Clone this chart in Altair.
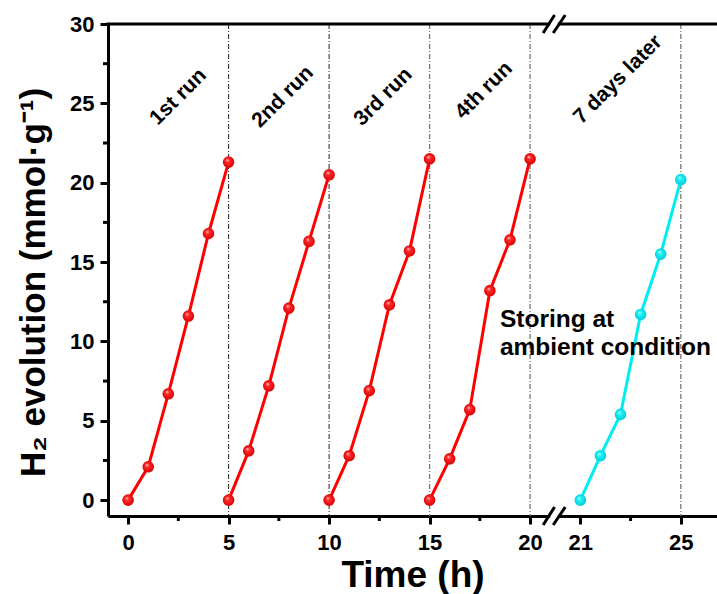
import altair as alt
import pandas as pd

# ---------------- data ----------------
run_times = [0, 1, 2, 3, 4, 5]
run1 = [0.0, 2.1, 6.7, 11.6, 16.8, 21.3]
run2 = [0.0, 3.1, 7.2, 12.1, 16.3, 20.5]
run3 = [0.0, 2.8, 6.9, 12.3, 15.7, 21.5]
run4 = [0.0, 2.6, 5.7, 13.2, 16.4, 21.5]
later_times = [21, 21.8, 22.6, 23.4, 24.2, 25]
later_vals = [0.0, 2.8, 5.4, 11.7, 15.5, 20.2]

run_labels = ["1st run", "2nd run", "3rd run", "4th run"]
run_label_t = [2.5, 7.7, 12.7, 17.7]
run_label_y = [25.4, 25.4, 25.4, 25.8]
later_label = "7 days later"
later_label_t = 22.5
later_label_y = 26.5

divider_times_dark = [5, 10]
divider_times_gray = [15, 20, 25]

major_tick_times = [0, 5, 10, 15, 20, 21, 25]
minor_tick_times = [2.5, 7.5, 12.5, 17.5, 23]
y_minor = [2.5, 7.5, 12.5, 17.5, 22.5, 27.5]

note_lines = ["Storing at", "ambient condition"]
note_t = 18.5
note_y = 10.9

FONT = "Liberation Sans"
W, H = 609, 492


# broken axis: 0-20 h at 1 unit/h, then 21-25 h at 1.25 units/h after a gap
def to_pos(t):
    return t if t <= 20 else 22.5 + (t - 21) * 1.25


rows = []
for k, vals in enumerate([run1, run2, run3, run4]):
    for t, v in zip(run_times, vals):
        rows.append({"p": to_pos(t + 5 * k), "y": v, "run": f"r{k+1}"})
red = pd.DataFrame(rows)
cyan = pd.DataFrame({"p": [to_pos(t) for t in later_times], "y": later_vals})

labels = pd.DataFrame({
    "p": [to_pos(t) for t in run_label_t] + [to_pos(later_label_t)],
    "y": run_label_y + [later_label_y],
    "text": run_labels + [later_label],
})

div_dark = pd.DataFrame({"p": [to_pos(t) for t in divider_times_dark]})
div_gray = pd.DataFrame({"p": [to_pos(t) for t in divider_times_gray]})
xminor = pd.DataFrame({"p": [to_pos(t) for t in minor_tick_times]})
yminor = pd.DataFrame({"y": y_minor})
note = pd.DataFrame({"p": [note_t], "y": [note_y], "text": ["\n".join(note_lines)]})

tick_vals = [to_pos(t) for t in major_tick_times]
label_map = " : ".join(
    f"datum.value == {to_pos(t)} ? '{t}'" for t in major_tick_times
) + " : ''"

xscale = alt.Scale(domain=[-1, 29.3], nice=False, zero=False)
yscale = alt.Scale(domain=[-1, 30], nice=False, zero=False)

xaxis = alt.Axis(
    values=tick_vals, labelExpr=label_map, grid=False,
    domainColor="black", domainWidth=3, tickColor="black", tickWidth=3, tickSize=8,
    labelFont=FONT, labelFontWeight="bold", labelFontSize=22, labelColor="black",
    labelPadding=8, labelFlush=False,
    title="Time (h)", titleFont=FONT, titleFontWeight="bold", titleFontSize=37,
    titleColor="black", titleX=W / 2, titleY=70, titleBaseline="alphabetic",
    titleAlign="center",
)
yaxis = alt.Axis(
    values=[0, 5, 10, 15, 20, 25, 30], grid=False,
    domainColor="black", domainWidth=3, tickColor="black", tickWidth=3, tickSize=8,
    labelFont=FONT, labelFontWeight="bold", labelFontSize=22, labelColor="black",
    labelPadding=6, labelFlush=False,
    title="H₂ evolution (mmol·g⁻¹)", titleFont=FONT, titleFontWeight="bold",
    titleFontSize=35, titleColor="black", titleAngle=270, titleX=-64, titleY=258,
    titleBaseline="alphabetic", titleAlign="center",
)

X = alt.X("p:Q", scale=xscale, axis=xaxis)
Y = alt.Y("y:Q", scale=yscale, axis=yaxis)
Xn = alt.X("p:Q", scale=xscale)
Yn = alt.Y("y:Q", scale=yscale)

dash = [5, 2, 1, 2]
dark_lines = alt.Chart(div_dark).mark_rule(color="#222222", strokeWidth=1, strokeDash=dash).encode(
    x=Xn, y=alt.value(0), y2=alt.value(H))
gray_lines = alt.Chart(div_gray).mark_rule(color="#777777", strokeWidth=1.3, strokeDash=dash).encode(
    x=Xn, y=alt.value(0), y2=alt.value(H))

red_grad = alt.RadialGradient(
    gradient="radial",
    stops=[alt.GradientStop(offset=0, color="#ffd8d8"),
           alt.GradientStop(offset=0.3, color="#ff2a2a"),
           alt.GradientStop(offset=1, color="#d40000")],
    x1=0.38, y1=0.32, r1=0, x2=0.5, y2=0.5, r2=0.55)
cyan_grad = alt.RadialGradient(
    gradient="radial",
    stops=[alt.GradientStop(offset=0, color="#e0ffff"),
           alt.GradientStop(offset=0.3, color="#20f4f8"),
           alt.GradientStop(offset=1, color="#00c8d8")],
    x1=0.38, y1=0.32, r1=0, x2=0.5, y2=0.5, r2=0.55)

red_line = alt.Chart(red).mark_line(color="#ff0000", strokeWidth=3).encode(
    x=X, y=Y, detail="run:N")
red_pts = alt.Chart(red).mark_circle(size=135, fill=red_grad, opacity=1).encode(x=Xn, y=Yn)
cyan_line = alt.Chart(cyan).mark_line(color="#00eef2", strokeWidth=3).encode(x=Xn, y=Yn)
cyan_pts = alt.Chart(cyan).mark_circle(size=135, fill=cyan_grad, opacity=1).encode(x=Xn, y=Yn)

run_text = alt.Chart(labels).mark_text(
    angle=315, font=FONT, fontWeight="bold", fontSize=21, color="black",
    align="center", baseline="middle").encode(x=Xn, y=Yn, text="text:N")

note_text = alt.Chart(note).mark_text(
    font=FONT, fontWeight="bold", fontSize=24.5, color="black", align="left",
    baseline="alphabetic", lineBreak="\n", lineHeight=28).encode(x=Xn, y=Yn, text="text:N")

# top frame line
top_line = alt.Chart(note).mark_rule(color="black", strokeWidth=3).encode(
    x=alt.value(-1.5), x2=alt.value(W), y=alt.value(0))

# minor ticks
x_minor = alt.Chart(xminor).mark_rule(color="black", strokeWidth=3).encode(
    x=Xn, y=alt.value(H), y2=alt.value(H + 5))
y_minor_ticks = alt.Chart(yminor).mark_rule(color="black", strokeWidth=3).encode(
    y=Yn, x=alt.value(0), x2=alt.value(-5))

# axis-break marks (between 20 h and 21 h)
gap = pd.DataFrame({"p1": [21.0], "p2": [21.38]})
gap_bottom = alt.Chart(gap).mark_rule(color="white", strokeWidth=6).encode(
    x=alt.X("p1:Q", scale=xscale), x2="p2:Q", y=alt.value(H))
gap_top = alt.Chart(gap).mark_rule(color="white", strokeWidth=6).encode(
    x=alt.X("p1:Q", scale=xscale), x2="p2:Q", y=alt.value(0))
slashes = pd.DataFrame({"a": [20.65, 21.15], "b": [21.22, 21.75]})
slash_bottom = alt.Chart(slashes).mark_rule(color="black", strokeWidth=3).encode(
    x=alt.X("a:Q", scale=xscale), x2="b:Q", y=alt.value(H + 9), y2=alt.value(H - 9))
slash_top = alt.Chart(slashes).mark_rule(color="black", strokeWidth=3).encode(
    x=alt.X("a:Q", scale=xscale), x2="b:Q", y=alt.value(9), y2=alt.value(-9))

chart = alt.layer(
    dark_lines, gray_lines, red_line, red_pts, cyan_line, cyan_pts,
    run_text, note_text, top_line, x_minor, y_minor_ticks,
    gap_bottom, gap_top, slash_bottom, slash_top,
).properties(
    width=W, height=H,
    padding={"left": 108, "top": 24, "right": 0, "bottom": 78},
    autosize=alt.AutoSizeParams(type="none"),
).configure_view(strokeWidth=0)

chart.save("out.html", embed_options={"renderer": "svg", "actions": False})
